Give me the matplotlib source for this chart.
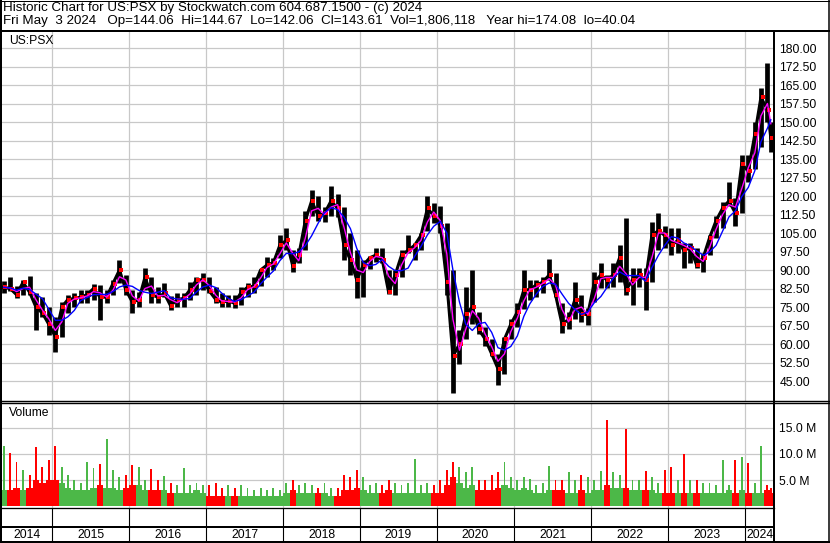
import numpy as np
import pandas as pd
import matplotlib
matplotlib.use("Agg")
import matplotlib.pyplot as plt

plt.rcParams['font.family'] = ['Liberation Sans', 'DejaVu Sans']

# monthly bars, May 2014 .. May 2024
hi = [85.5, 87.3, 83.5, 86.0, 87.6, 80.6, 79.0, 75.0, 71.0, 77.0, 80.0, 80.6,
      82.0, 82.0, 84.3, 84.0, 82.0, 86.0, 94.0, 88.0, 82.0, 81.0, 90.8, 87.0,
      83.0, 84.7, 79.5, 80.6, 80.6, 85.0, 87.0, 88.8, 87.2, 83.0, 80.6, 80.0,
      80.0, 83.0, 84.7, 87.0, 90.0, 95.3, 95.0, 104.0, 107.0, 98.0, 99.0, 114.0,
      122.4, 120.0, 115.5, 124.0, 121.0, 115.5, 105.0, 98.0, 94.0, 95.5, 99.0, 99.0,
      90.0, 90.0, 98.0, 104.0, 101.0, 105.0, 120.0, 117.0, 116.0, 109.0, 90.0, 65.7,
      83.0, 90.0, 73.0, 67.0, 62.0, 56.0, 62.8, 70.0, 76.6, 90.0, 86.0, 86.0,
      87.0, 94.5, 88.8, 76.6, 73.0, 85.0, 80.0, 74.6, 89.0, 93.0, 88.0, 93.0,
      100.0, 111.0, 91.0, 91.0, 91.0, 109.5, 113.0, 108.0, 107.0, 107.0, 101.0, 101.0,
      99.0, 97.0, 104.0, 112.0, 117.6, 125.7, 119.0, 136.6, 136.6, 150.0, 163.8, 174.08,
      150.0]
lo = [80.5, 81.5, 78.5, 80.0, 80.0, 65.7, 71.0, 63.6, 56.9, 63.0, 72.5, 75.0,
      76.6, 76.6, 78.0, 69.7, 76.5, 80.0, 84.7, 80.0, 72.5, 75.0, 82.0, 76.6,
      76.6, 79.0, 73.8, 75.0, 75.0, 78.0, 80.0, 82.0, 80.6, 76.6, 75.0, 75.0,
      74.5, 76.0, 79.0, 80.6, 83.5, 87.2, 90.0, 95.0, 98.0, 89.0, 92.8, 98.0,
      112.0, 110.0, 109.5, 112.0, 111.5, 94.0, 88.0, 78.6, 79.0, 90.5, 93.2, 93.0,
      80.3, 80.0, 87.0, 97.0, 94.0, 98.0, 106.0, 109.0, 105.0, 80.0, 40.04, 52.0,
      62.0, 68.0, 64.0, 59.0, 55.0, 43.4, 48.0, 62.0, 67.0, 74.0, 78.0, 79.0,
      80.6, 86.0, 79.0, 64.5, 66.0, 70.0, 69.0, 67.7, 77.0, 82.7, 82.7, 83.0,
      85.0, 80.0, 76.0, 83.0, 73.8, 85.0, 98.0, 99.0, 96.0, 97.0, 91.0, 93.0,
      91.0, 89.0, 96.0, 103.0, 107.0, 116.0, 108.0, 113.0, 125.7, 131.0, 140.0, 150.0,
      138.0]
close = [83.0, 82.5, 80.0, 85.0, 81.0, 75.0, 72.5, 68.0, 63.0, 75.0, 78.0, 78.5,
         79.0, 80.0, 82.5, 79.0, 79.0, 84.5, 90.0, 82.0, 77.0, 78.0, 87.0, 80.0,
         79.0, 80.5, 75.5, 78.0, 78.5, 82.0, 86.0, 86.0, 81.5, 78.0, 77.0, 77.5,
         76.5, 81.0, 83.0, 83.5, 90.0, 92.0, 93.0, 100.0, 102.0, 91.5, 96.0, 110.0,
         118.0, 112.0, 113.0, 118.0, 115.0, 100.0, 94.0, 86.0, 92.0, 95.0, 96.0, 94.0,
         81.0, 88.0, 96.0, 98.0, 100.0, 104.0, 115.0, 112.0, 108.0, 85.0, 55.0, 60.0,
         72.0, 75.0, 66.0, 62.0, 56.0, 50.0, 62.0, 68.0, 73.0, 82.0, 82.0, 84.0,
         85.0, 88.0, 80.0, 68.0, 70.0, 78.0, 72.0, 72.0, 85.0, 88.0, 86.0, 88.0,
         95.0, 82.0, 86.0, 88.0, 86.0, 104.0, 106.0, 104.0, 100.0, 102.0, 98.0, 99.0,
         92.0, 95.0, 103.0, 110.0, 115.0, 118.0, 113.0, 133.0, 130.0, 145.0, 160.0, 155.0,
         143.61]

# volume in millions: typical daily level and the largest day of each month
vol_base = [3.0, 3.0, 3.5, 3.0, 3.5, 5.0, 4.5, 5.0, 5.0, 4.5, 3.5, 3.0,
            3.0, 3.0, 3.5, 4.0, 3.5, 3.5, 3.0, 3.5, 4.0, 4.0, 3.0, 3.0,
            3.0, 3.0, 2.5, 2.5, 2.5, 2.5, 3.0, 2.5, 2.0, 2.0, 2.0, 2.0,
            2.0, 2.0, 2.0, 2.0, 2.0, 2.0, 2.0, 2.0, 2.5, 3.0, 2.5, 2.5,
            2.5, 2.5, 2.5, 2.0, 2.0, 3.0, 3.0, 3.5, 3.0, 2.5, 2.5, 2.5,
            3.0, 2.5, 2.5, 2.5, 2.5, 2.5, 2.5, 2.5, 2.5, 4.0, 5.5, 4.5,
            3.5, 4.0, 3.0, 3.0, 3.0, 3.5, 4.0, 3.5, 3.0, 3.5, 3.0, 2.5,
            2.5, 3.0, 3.0, 3.0, 2.5, 2.5, 3.0, 2.5, 3.0, 3.0, 4.0, 3.5,
            3.5, 3.5, 3.0, 3.0, 3.0, 3.0, 2.5, 2.5, 2.5, 2.5, 2.5, 2.5,
            2.5, 2.5, 2.5, 2.5, 2.5, 3.0, 2.5, 3.0, 2.5, 2.5, 2.5, 3.0,
            2.5]
vol_peak = [11.5, 10.2, 8.5, 7.0, 6.0, 11.3, 7.5, 8.8, 11.5, 7.5, 6.0, 5.0,
            4.5, 8.5, 7.3, 8.1, 12.9, 7.0, 5.5, 6.0, 7.8, 7.5, 5.0, 7.2,
            5.0, 5.8, 4.5, 4.0, 7.3, 4.0, 4.5, 4.0, 4.0, 4.5, 3.5, 4.0,
            3.5, 4.0, 3.5, 3.0, 3.5, 3.0, 3.5, 3.0, 4.4, 5.0, 4.0, 4.5,
            4.0, 3.5, 4.5, 3.5, 3.5, 6.0, 5.5, 7.0, 5.5, 4.0, 4.5, 4.0,
            5.0, 4.5, 4.0, 4.5, 9.0, 4.0, 4.5, 4.0, 5.0, 7.0, 8.5, 7.5,
            6.5, 7.5, 5.0, 5.0, 6.0, 6.5, 8.5, 5.5, 5.0, 5.6, 5.2, 4.0,
            4.5, 7.7, 5.0, 5.0, 6.5, 5.0, 6.0, 5.5, 5.0, 6.8, 16.5, 6.5,
            6.0, 14.8, 5.0, 5.0, 6.8, 5.5, 4.5, 7.0, 7.5, 5.0, 10.0, 5.0,
            5.0, 4.5, 4.5, 4.0, 8.9, 4.0, 8.8, 9.5, 8.2, 4.5, 11.5, 4.0,
            3.5]

first_month = "2014-05-01"
last_date = pd.Timestamp("2024-05-03")
price_ticks = [45.0, 52.5, 60.0, 67.5, 75.0, 82.5, 90.0, 97.5, 105.0, 112.5,
               120.0, 127.5, 135.0, 142.5, 150.0, 157.5, 165.0, 172.5, 180.0]
vol_ticks = [5, 10, 15]
years = list(range(2014, 2025))

header1 = "Historic Chart for US:PSX by Stockwatch.com 604.687.1500 - (c) 2024"
header2 = ("Fri May  3 2024   Op=144.06  Hi=144.67  Lo=142.06  Cl=143.61  "
           "Vol=1,806,118   Year hi=174.08  lo=40.04")


def frac_year(ts):
    days = 366 if ts.is_leap_year else 365
    return ts.year + (ts.dayofyear - 0.5) / days


months = pd.date_range(first_month, periods=len(close), freq="MS")
mids = [min(m + pd.Timedelta(days=15), m + (last_date - m) / 2) for m in months]
x = np.array([frac_year(m) for m in mids])
bar_w = 1 / 12

close_s = pd.Series(close)
ma_short = close_s.rolling(2, min_periods=1).mean()
ma_long = close_s.rolling(4, min_periods=1).mean()
up = close_s.diff().fillna(1) >= 0
vol_colors = np.where(up, '#4cb848', '#ff0000')

# ---- figure layout in pixels ----
W, H = 830, 543
fig = plt.figure(figsize=(W / 100, H / 100), dpi=100)
fig.patch.set_facecolor('white')
FS = 8.7
FS_HEAD = 9.6
GRID = '#c8c8c8'


def px_axes(l, t, r, b):
    return fig.add_axes([l / W, 1 - b / H, (r - l) / W, (b - t) / H])


xmin, xmax = 2014.350, 2024.376

# price panel
ax = px_axes(2, 31, 774, 401)
ax.set_xlim(xmin, xmax)
ax.set_ylim(36.9, 186.9)
ax.vlines(x, lo, hi, color='black', lw=3.4, zorder=2)
ax.plot(x, close, color='black', lw=2.2, zorder=2)
ax.plot(x + bar_w * 0.25, close, 's', color='#ff0000', ms=2.2, mew=0, zorder=3)
ax.plot(x, ma_short, color='#ff00ff', lw=1, zorder=4)
ax.plot(x, ma_long, color='#0000ff', lw=1, zorder=4)
ax.set_yticks(price_ticks)
ax.set_yticklabels([f"{v:.2f}" for v in price_ticks])
ax.set_xticks(years[1:])
ax.grid(True, color=GRID, lw=0.9)
ax.set_axisbelow(True)
ax.tick_params(length=0, labelbottom=False, labelleft=False, labelright=True,
               pad=3.8, labelsize=FS)
for s in ax.spines.values():
    s.set_visible(False)
ax.text(0.009, 0.972, "US:PSX", transform=ax.transAxes, fontsize=FS,
        va='center', ha='left')

# volume panel
ax2 = px_axes(2, 403, 774, 508)
ax2.set_xlim(xmin, xmax)
ax2.set_ylim(-0.38, 19.8)
ax2.bar(x, vol_base, width=bar_w, color=vol_colors, zorder=2)
ax2.bar(x, vol_peak, width=bar_w * 0.3, color=vol_colors, zorder=2)
ax2.set_yticks(vol_ticks)
ax2.set_yticklabels([f"{v:.1f} M" for v in vol_ticks])
ax2.set_xticks(years[1:])
ax2.grid(True, color=GRID, lw=0.9)
ax2.set_axisbelow(True)
ax2.tick_params(length=0, labelbottom=False, labelleft=False, labelright=True,
                pad=3.8, labelsize=FS)
for s in ax2.spines.values():
    s.set_visible(False)
ax2.text(0.009, 0.9, "Volume", transform=ax2.transAxes, fontsize=FS,
         va='center', ha='left')

# year strip
ax3 = px_axes(2, 508, 774, 542)
ax3.set_xlim(xmin, xmax)
ax3.set_ylim(0, 1)
ax3.axis('off')
edges = [xmin] + years[1:] + [xmax]
for i, yr in enumerate(years):
    ax3.text((edges[i] + edges[i + 1]) / 2, 0.22, str(yr), fontsize=FS,
             ha='center', va='center')
ax3.vlines(years[1:], 0, 1, color='black', lw=0.8)

# frame lines
ov = fig.add_axes([0, 0, 1, 1], zorder=10)
ov.set_xlim(0, W)
ov.set_ylim(H, 0)
ov.axis('off')
ov.patch.set_alpha(0)
k = 0.72
ov.plot([0, W], [0.5, 0.5], color='black', lw=1 * k)
ov.plot([1, 1], [0, H], color='black', lw=2 * k)
ov.plot([829, 829], [0, H], color='black', lw=1.5 * k)
ov.plot([0, W], [30.5, 30.5], color='black', lw=2 * k)
ov.plot([774, 774], [30.5, H], color='black', lw=2 * k)
ov.plot([0, W], [400.7, 400.7], color='black', lw=1.4 * k)
ov.plot([0, W], [403.2, 403.2], color='black', lw=1.4 * k)
ov.plot([0, 774], [508.3, 508.3], color='black', lw=1.3 * k)
ov.plot([0, 774], [526.5, 526.5], color='black', lw=2 * k)
ov.plot([0, W], [541.8, 541.8], color='black', lw=2 * k)

fig.text(3 / W, 1 - 8 / H, header1, fontsize=FS_HEAD, va='center', ha='left')
fig.text(3 / W, 1 - 21 / H, header2, fontsize=FS_HEAD, va='center', ha='left')

fig.savefig("out.png", dpi=100)
